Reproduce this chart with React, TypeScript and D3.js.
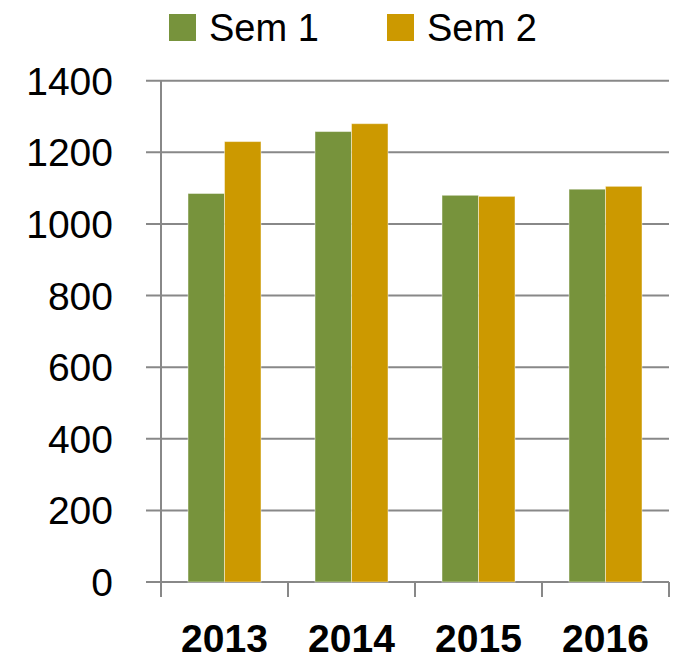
import * as d3 from "d3";
import { useEffect, useRef } from "react";

const years = ["2013", "2014", "2015", "2016"];
const seriesNames = ["Sem 1", "Sem 2"];
const sem1 = [1085, 1258, 1080, 1097];
const sem2 = [1230, 1280, 1077, 1105];
const yTicks = [0, 200, 400, 600, 800, 1000, 1200, 1400];
const colors = ["#77933C", "#CC9900"];

export default function App() {
  const ref = useRef<SVGSVGElement | null>(null);

  useEffect(() => {
    if (!ref.current) return;
    const width = 674;
    const height = 661;
    const left = 161;
    const right = 669;
    const top = 80.7;
    const bottom = 582;
    const font = "'Liberation Sans', Arial, sans-serif";

    const svg = d3.select(ref.current);
    svg.selectAll("*").remove();
    svg.attr("width", width).attr("height", height);

    const x0 = d3.scaleBand().domain(years).range([left, right]);
    const x1 = d3
      .scaleBand()
      .domain(seriesNames)
      .range([0, x0.bandwidth()])
      .paddingOuter(0.74);
    const y = d3.scaleLinear().domain([0, 1400]).range([bottom, top]);

    // gridlines + left ticks
    svg
      .append("g")
      .selectAll("line")
      .data(yTicks)
      .join("line")
      .attr("x1", left - 15)
      .attr("x2", right)
      .attr("y1", (d) => y(d))
      .attr("y2", (d) => y(d))
      .attr("stroke", "#888")
      .attr("stroke-width", 2);

    // y labels
    svg
      .append("g")
      .selectAll("text")
      .data(yTicks)
      .join("text")
      .attr("x", 113)
      .attr("y", (d) => y(d) + 14)
      .attr("text-anchor", "end")
      .attr("font-family", font)
      .attr("font-size", 39)
      .attr("fill", "#000")
      .text((d) => d);

    // bars
    const data = years.map((yr, i) => ({ yr, vals: [sem1[i], sem2[i]] }));
    svg
      .append("g")
      .selectAll("g")
      .data(data)
      .join("g")
      .attr("transform", (d) => `translate(${x0(d.yr)},0)`)
      .selectAll("rect")
      .data((d) => d.vals.map((v, j) => ({ v, s: seriesNames[j], c: colors[j] })))
      .join("rect")
      .attr("x", (d) => x1(d.s)!)
      .attr("y", (d) => y(d.v))
      .attr("width", x1.bandwidth())
      .attr("height", (d) => y(0) - y(d.v))
      .attr("fill", (d) => d.c)
      .attr("stroke", "rgba(255,255,255,0.45)")
      .attr("stroke-width", 1);

    // y axis line
    svg
      .append("line")
      .attr("x1", left)
      .attr("x2", left)
      .attr("y1", top)
      .attr("y2", bottom + 15)
      .attr("stroke", "#888")
      .attr("stroke-width", 2);

    // x axis ticks at category edges
    const edges = years.map((yr) => x0(yr)!).concat([right]);
    svg
      .append("g")
      .selectAll("line")
      .data(edges.slice(1))
      .join("line")
      .attr("x1", (d) => d)
      .attr("x2", (d) => d)
      .attr("y1", bottom)
      .attr("y2", bottom + 15)
      .attr("stroke", "#888")
      .attr("stroke-width", 2);

    // x labels
    svg
      .append("g")
      .selectAll("text")
      .data(years)
      .join("text")
      .attr("x", (d) => x0(d)! + x0.bandwidth() / 2)
      .attr("y", 652)
      .attr("text-anchor", "middle")
      .attr("font-family", font)
      .attr("font-weight", "bold")
      .attr("font-size", 39)
      .attr("fill", "#000")
      .text((d) => d);

    // legend
    const legendX = [169, 387];
    const lg = svg
      .append("g")
      .selectAll("g")
      .data(seriesNames)
      .join("g")
      .attr("transform", (_, i) => `translate(${legendX[i]},14)`);
    lg.append("rect")
      .attr("width", 27)
      .attr("height", 27)
      .attr("fill", (_, i) => colors[i]);
    lg.append("text")
      .attr("x", 40)
      .attr("y", 27)
      .attr("font-family", font)
      .attr("font-size", 38)
      .attr("fill", "#000")
      .text((d) => d);
  }, []);

  return (
    <div style={{ position: "absolute", top: 0, left: 0 }}>
      <svg ref={ref} style={{ display: "block" }}></svg>
    </div>
  );
}
